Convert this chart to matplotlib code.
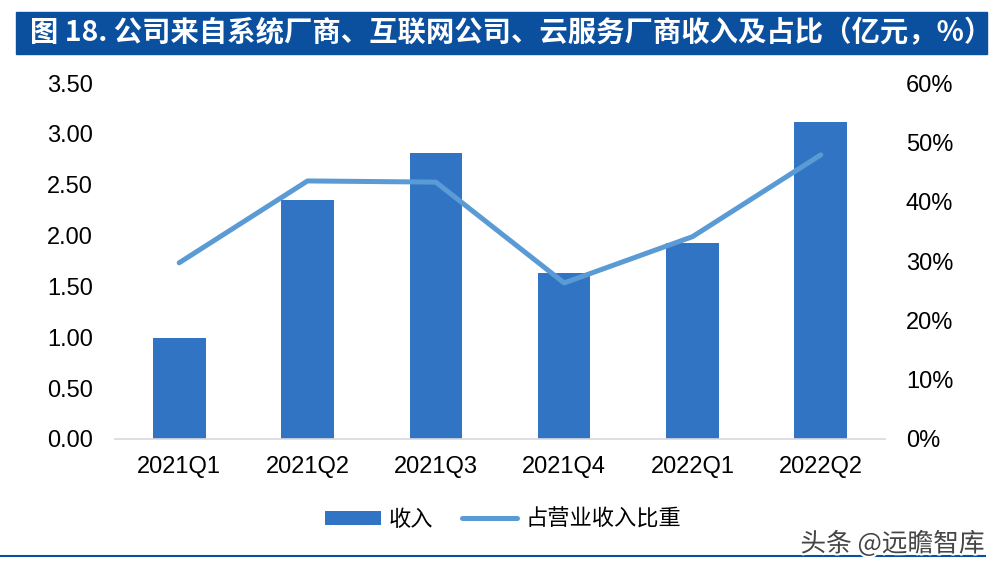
import matplotlib
matplotlib.use('Agg')
import matplotlib.pyplot as plt
import matplotlib.patheffects as pe
from matplotlib.ticker import FuncFormatter

plt.rcParams['font.family'] = ['Liberation Sans', 'Noto Sans CJK SC', 'DejaVu Sans']

# ===== data =====
quarters = ['2021Q1', '2021Q2', '2021Q3', '2021Q4', '2022Q1', '2022Q2']
revenue = [0.99, 2.35, 2.81, 1.63, 1.93, 3.12]        # 亿元
share = [29.7, 43.5, 43.3, 26.3, 34.1, 47.9]          # %

bar_color = '#3174C4'
line_color = '#5B9BD5'
title_blue = '#0B4F9F'

fig = plt.figure(figsize=(9.96, 5.73), dpi=100)
ax = fig.add_axes([0.1155, 0.234, 0.773, 0.621])
ax2 = ax.twinx()

x = list(range(len(quarters)))
bars = ax.bar(x, revenue, width=0.41, color=bar_color, label='收入', zorder=2)
line, = ax2.plot(x, share, color=line_color, lw=3.6, solid_capstyle='round',
                 label='占营业收入比重', zorder=3)

ax.set_xlim(-0.5, 5.5)
ax.set_ylim(0, 3.5)
ax.set_yticks([i * 0.5 for i in range(8)])
ax.yaxis.set_major_formatter(FuncFormatter(lambda v, p: f'{v:.2f}'))
ax2.set_ylim(0, 60)
ax2.set_yticks(range(0, 61, 10))
ax2.yaxis.set_major_formatter(FuncFormatter(lambda v, p: f'{v:.0f}%'))

ax.set_xticks(x)
ax.set_xticklabels(quarters)

for a in (ax, ax2):
    for s in a.spines.values():
        s.set_visible(False)
    a.tick_params(length=0, labelsize=17, colors='black')
ax.spines['bottom'].set_visible(True)
ax.spines['bottom'].set_color('#D9D9D9')
ax.spines['bottom'].set_linewidth(1.2)
ax.tick_params(axis='y', pad=16)
ax.tick_params(axis='x', pad=12)
ax2.tick_params(axis='y', pad=15)

# legend
fig.legend([bars, line], ['收入', '占营业收入比重'], loc='center',
           bbox_to_anchor=(0.505, 0.094), ncol=2, frameon=False,
           prop={'family': ['Noto Sans CJK SC'], 'size': 16},
           handlelength=2.5, handleheight=0.6, columnspacing=1.3, handletextpad=0.35)

# title band
fig.patches.append(plt.Rectangle((16 / 996, 1 - 54 / 573), 971 / 996, 42 / 573,
                                 transform=fig.transFigure, color=title_blue, zorder=0))
fig.text(30 / 996, 1 - 33 / 573, '图 18. 公司来自系统厂商、互联网公司、云服务厂商收入及占比（亿元，%）',
         color='white', fontsize=20.4, fontweight='bold', va='center', ha='left',
         family=['Noto Sans CJK SC', 'DejaVu Sans'])

# bottom rule
fig.add_artist(plt.Line2D([0, 985 / 996], [1 - 556 / 573] * 2, transform=fig.transFigure,
                          color=title_blue, lw=1.5))

# watermark
fig.text(985 / 996, 1 - 544 / 573, '头条 @远瞻智库', color='#444444', fontsize=18.5,
         ha='right', va='center', family=['Noto Sans CJK SC', 'DejaVu Sans'],
         path_effects=[pe.withStroke(linewidth=3, foreground='white')])

plt.savefig('out.png', dpi=100)
